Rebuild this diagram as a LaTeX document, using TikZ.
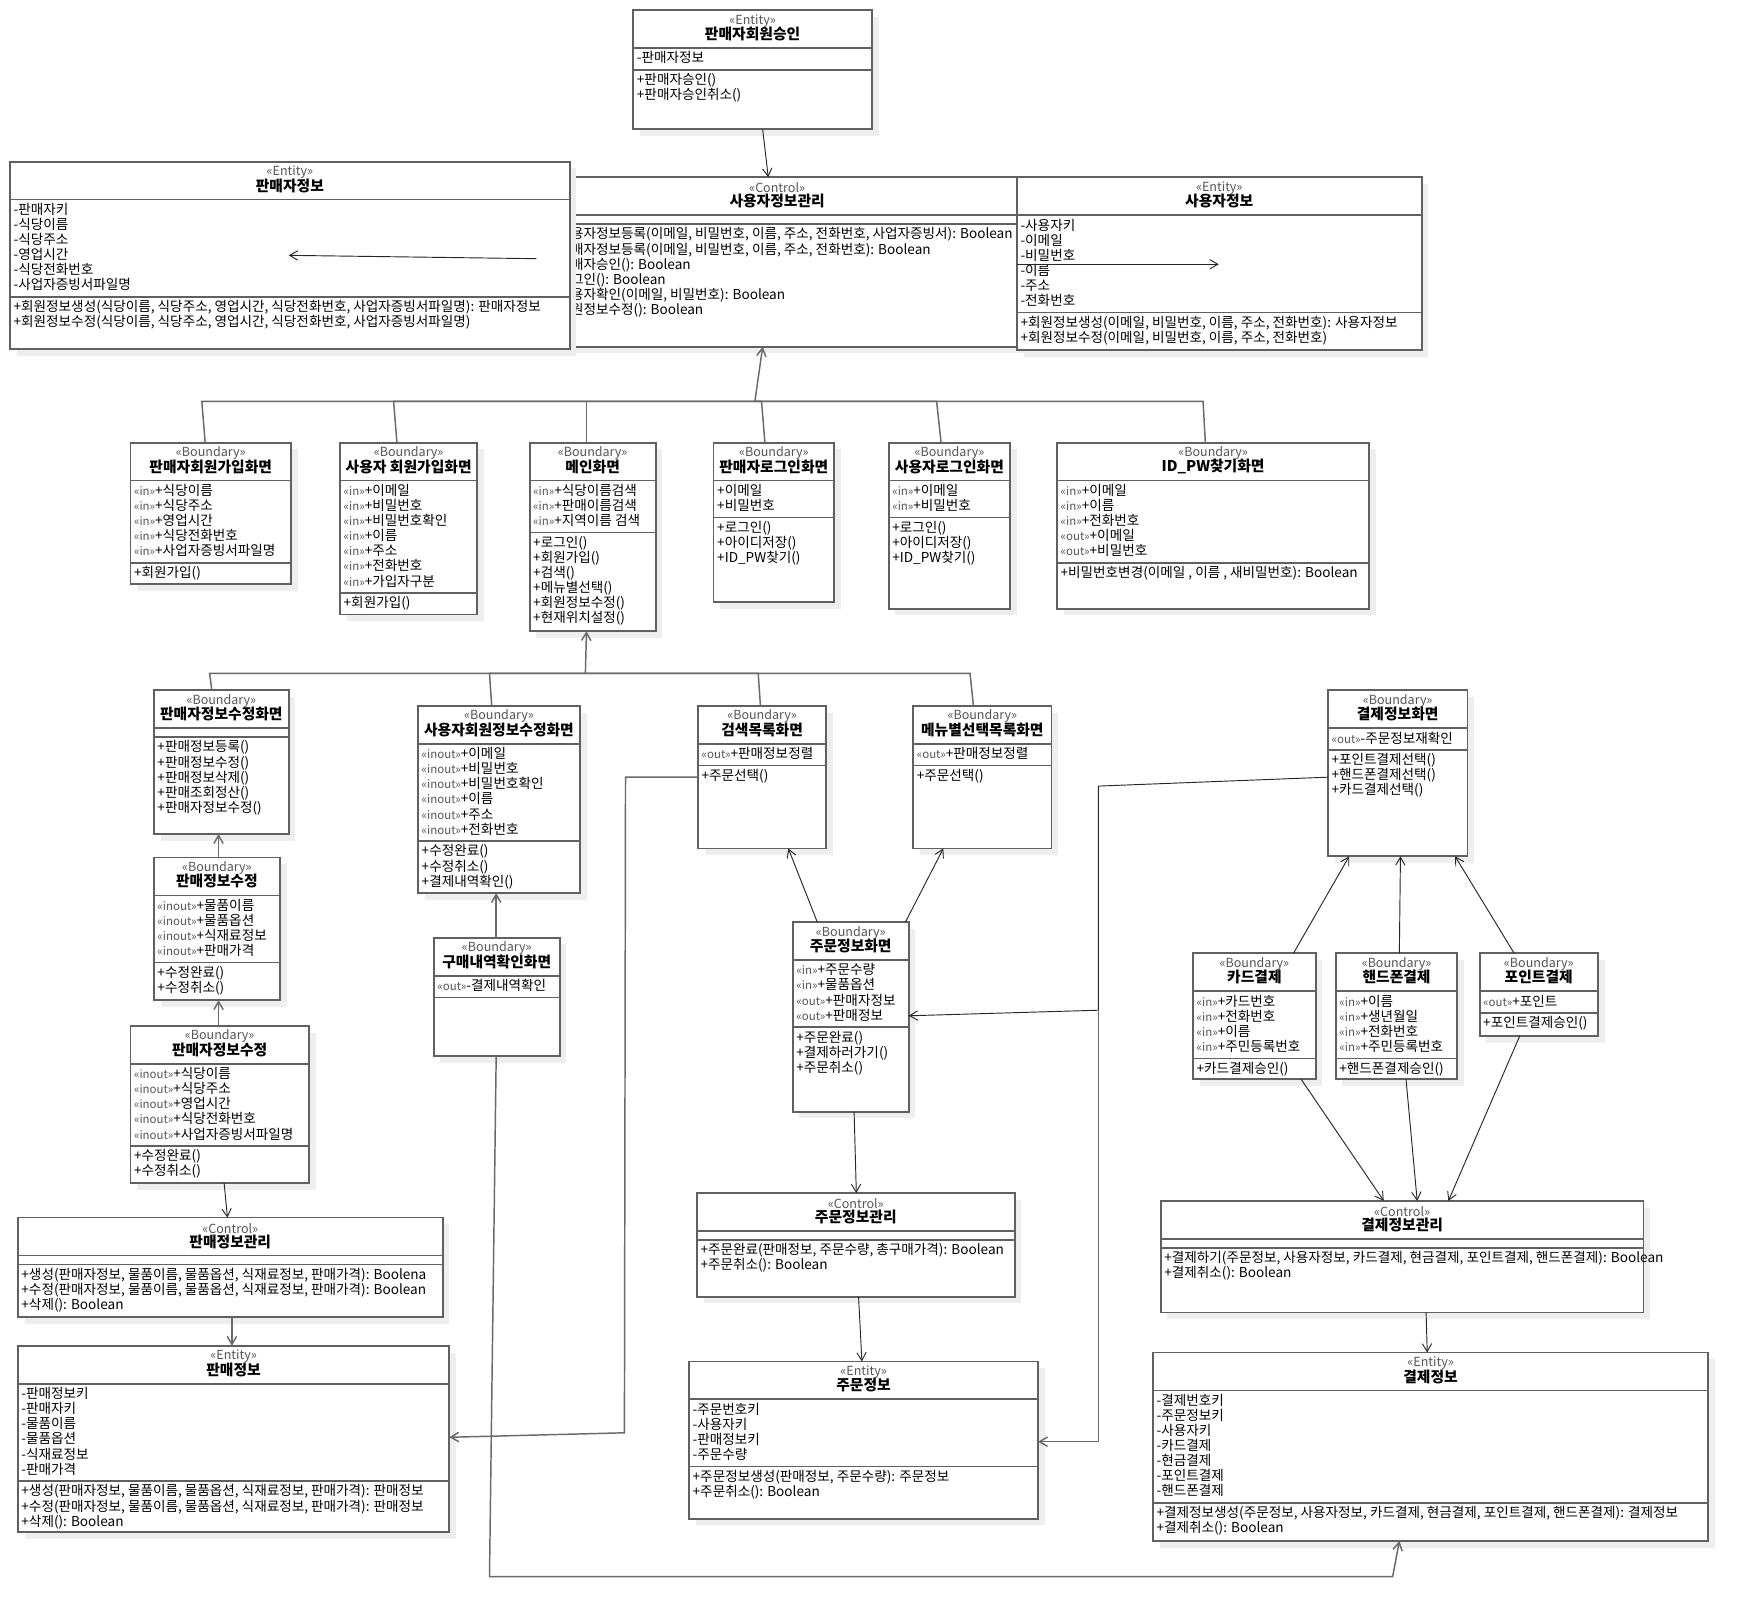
\documentclass[tikz,border=0pt]{standalone}
\usepackage{fontspec}
\setmainfont{Noto Sans CJK KR}
\usetikzlibrary{arrows.meta}

\definecolor{boxgray}{RGB}{96,96,96}
\definecolor{shadegray}{RGB}{238,238,238}
\definecolor{stgray}{RGB}{85,85,85}
\definecolor{linkgray}{RGB}{105,105,105}

\newcommand{\umlunit}{0.8363pt}
\newcommand{\stio}[1]{{\color{stgray}\fontsize{8.6}{11.33}\selectfont «#1»}}

\tikzset{
  cls box/.style={rectangle, draw=boxgray, line width=1.3pt, fill=white, anchor=north west, inner sep=0pt, outer sep=0pt},
  cls line/.style={draw=boxgray, line width=1.3pt},
  shade box/.style={fill=shadegray},
  stereo/.style={text=stgray, font=\fontsize{9.4}{10}\selectfont, inner sep=0pt},
  cls title/.style={font=\fontsize{11.1}{12}\selectfont\bfseries, inner sep=0pt},
  members/.style={anchor=north west, inner sep=0pt, align=left, font=\fontsize{10.2}{11.33}\selectfont},
  assoc/.style={draw=black!85, line width=0.7pt},
  route/.style={draw=linkgray, line width=1.1pt},
}

% name, x, y, width, height, stereotype, title, number of attributes
\newcommand{\umlclass}[8]{%
  \pgfmathsetmacro\sepb{ifthenelse(#8==0,42,40+13.55*#8)}
  \fill[shade box] (#2+6,#3+6) rectangle ++(#4,#5);
  \node[cls box, minimum width={#4*\umlunit}, minimum height={#5*\umlunit}] (#1) at (#2,#3) {};
  \draw[cls line] (#2,#3+34) -- ++(#4,0);
  \draw[cls line] (#2,#3+\sepb) -- ++(#4,0);
  \node[stereo] (#1-s) at (#2+#4/2,#3+9.5) {«#6»};
  \node[cls title] (#1-t) at (#2+#4/2,#3+21.5) {#7};
  \coordinate (#1-a) at (#2+3,#3+37);
  \coordinate (#1-o) at (#2+3,#3+\sepb+3);
}

\begin{document}
\begin{tikzpicture}[x=\umlunit,y=\umlunit,yscale=-1,>={Straight Barb[length=6pt,width=7pt]}]
\useasboundingbox (0,0) rectangle (1569.5,1452);

% Control: 사용자정보관리 (partly under the two entities)
\umlclass{C}{477}{159}{440}{152}{Control}{사용자정보관리}{0}
\node[members] (C-op) at (494,204) {+사용자정보등록(이메일, 비밀번호, 이름, 주소, 전화번호, 사업자증빙서): Boolean\\+판매자정보등록(이메일, 비밀번호, 이름, 주소, 전화번호): Boolean\\+판매자승인(): Boolean\\+로그인(): Boolean\\+사용자확인(이메일, 비밀번호): Boolean\\+회원정보수정(): Boolean};

% Entity: 판매자정보
\umlclass{B}{9}{145}{502}{168}{Entity}{판매자정보}{6}
\node[members] (B-at) at (B-a) {-판매자키\\-식당이름\\-식당주소\\-영업시간\\-식당전화번호\\-사업자증빙서파일명};
\node[members] (B-op) at (B-o) {+회원정보생성(식당이름, 식당주소, 영업시간, 식당전화번호, 사업자증빙서파일명): 판매자정보\\+회원정보수정(식당이름, 식당주소, 영업시간, 식당전화번호, 사업자증빙서파일명)};

% Entity: 사용자정보
\umlclass{D}{912}{159}{363}{155}{Entity}{사용자정보}{6}
\node[members] (D-at) at (D-a) {-사용자키\\-이메일\\-비밀번호\\-이름\\-주소\\-전화번호};
\node[members] (D-op) at (D-o) {+회원정보생성(이메일, 비밀번호, 이름, 주소, 전화번호): 사용자정보\\+회원정보수정(이메일, 비밀번호, 이름, 주소, 전화번호)};

% Entity: 판매자회원승인
\umlclass{A}{568}{9}{214}{107}{Entity}{판매자회원승인}{1}
\node[members] (A-at) at (A-a) {-판매자정보};
\node[members] (A-op) at (A-o) {+판매자승인()\\+판매자승인취소()};

% Boundary row
\umlclass{E1}{117}{397}{144}{127}{Boundary}{판매자회원가입화면}{5}
\node[members] (E1-at) at (E1-a) {\stio{in}+식당이름\\\stio{in}+식당주소\\\stio{in}+영업시간\\\stio{in}+식당전화번호\\\stio{in}+사업자증빙서파일명};
\node[members] (E1-op) at (E1-o) {+회원가입()};

\umlclass{E2}{305}{397}{123}{154}{Boundary}{사용자 회원가입화면}{7}
\node[members] (E2-at) at (E2-a) {\stio{in}+이메일\\\stio{in}+비밀번호\\\stio{in}+비밀번호확인\\\stio{in}+이름\\\stio{in}+주소\\\stio{in}+전화번호\\\stio{in}+가입자구분};
\node[members] (E2-op) at (E2-o) {+회원가입()};

\umlclass{E3}{475}{397}{113}{169}{Boundary}{메인화면}{3}
\node[members] (E3-at) at (E3-a) {\stio{in}+식당이름검색\\\stio{in}+판매이름검색\\\stio{in}+지역이름 검색};
\node[members] (E3-op) at (E3-o) {+로그인()\\+회원가입()\\+검색()\\+메뉴별선택()\\+회원정보수정()\\+현재위치설정()};

\umlclass{E4}{640}{397}{108}{143}{Boundary}{판매자로그인화면}{2}
\node[members] (E4-at) at (E4-a) {+이메일\\+비밀번호};
\node[members] (E4-op) at (E4-o) {+로그인()\\+아이디저장()\\+ID\_PW찾기()};

\umlclass{E5}{797}{397}{109}{149}{Boundary}{사용자로그인화면}{2}
\node[members] (E5-at) at (E5-a) {\stio{in}+이메일\\\stio{in}+비밀번호};
\node[members] (E5-op) at (E5-o) {+로그인()\\+아이디저장()\\+ID\_PW찾기()};

\umlclass{E6}{948}{397}{280}{149}{Boundary}{ID\_PW찾기화면}{5}
\node[members] (E6-at) at (E6-a) {\stio{in}+이메일\\\stio{in}+이름\\\stio{in}+전화번호\\\stio{out}+이메일\\\stio{out}+비밀번호};
\node[members] (E6-op) at (E6-o) {+비밀번호변경(이메일 , 이름 , 새비밀번호): Boolean};

% second row
\umlclass{F1}{138}{619}{121}{129}{Boundary}{판매자정보수정화면}{0}
\node[members] (F1-op) at (F1-o) {+판매정보등록()\\+판매정보수정()\\+판매정보삭제()\\+판매조회정산()\\+판매자정보수정()};

\umlclass{F2}{375}{633}{145}{168}{Boundary}{사용자회원정보수정화면}{6}
\node[members] (F2-at) at (F2-a) {\stio{inout}+이메일\\\stio{inout}+비밀번호\\\stio{inout}+비밀번호확인\\\stio{inout}+이름\\\stio{inout}+주소\\\stio{inout}+전화번호};
\node[members] (F2-op) at (F2-o) {+수정완료()\\+수정취소()\\+결제내역확인()};

\umlclass{F3}{626}{633}{115}{128}{Boundary}{검색목록화면}{1}
\node[members] (F3-at) at (F3-a) {\stio{out}+판매정보정렬};
\node[members] (F3-op) at (F3-o) {+주문선택()};

\umlclass{F4}{819}{633}{124}{128}{Boundary}{메뉴별선택목록화면}{1}
\node[members] (F4-at) at (F4-a) {\stio{out}+판매정보정렬};
\node[members] (F4-op) at (F4-o) {+주문선택()};

\umlclass{G}{1191}{619}{125}{149}{Boundary}{결제정보화면}{1}
\node[members] (G-at) at (G-a) {\stio{out}-주문정보재확인};
\node[members] (G-op) at (G-o) {+포인트결제선택()\\+핸드폰결제선택()\\+카드결제선택()};

\umlclass{H}{138}{769}{113}{128}{Boundary}{판매정보수정}{4}
\node[members] (H-at) at (H-a) {\stio{inout}+물품이름\\\stio{inout}+물품옵션\\\stio{inout}+식재료정보\\\stio{inout}+판매가격};
\node[members] (H-op) at (H-o) {+수정완료()\\+수정취소()};

\umlclass{I}{389}{841}{113}{106}{Boundary}{구매내역확인화면}{1}
\node[members] (I-at) at (I-a) {\stio{out}-결제내역확인};

\umlclass{J}{711}{827}{104}{170}{Boundary}{주문정보화면}{4}
\node[members] (J-at) at (J-a) {\stio{in}+주문수량\\\stio{in}+물품옵션\\\stio{out}+판매자정보\\\stio{out}+판매정보};
\node[members] (J-op) at (J-o) {+주문완료()\\+결제하러가기()\\+주문취소()};

\umlclass{K}{1070}{855}{110}{113}{Boundary}{카드결제}{4}
\node[members] (K-at) at (K-a) {\stio{in}+카드번호\\\stio{in}+전화번호\\\stio{in}+이름\\\stio{in}+주민등록번호};
\node[members] (K-op) at (K-o) {+카드결제승인()};

\umlclass{L}{1198}{855}{109}{113}{Boundary}{핸드폰결제}{4}
\node[members] (L-at) at (L-a) {\stio{in}+이름\\\stio{in}+생년월일\\\stio{in}+전화번호\\\stio{in}+주민등록번호};
\node[members] (L-op) at (L-o) {+핸드폰결제승인()};

\umlclass{M}{1327}{855}{106}{74}{Boundary}{포인트결제}{1}
\node[members] (M-at) at (M-a) {\stio{out}+포인트};
\node[members] (M-op) at (M-o) {+포인트결제승인()};

\umlclass{N}{117}{920}{160}{141}{Boundary}{판매자정보수정}{5}
\node[members] (N-at) at (N-a) {\stio{inout}+식당이름\\\stio{inout}+식당주소\\\stio{inout}+영업시간\\\stio{inout}+식당전화번호\\\stio{inout}+사업자증빙서파일명};
\node[members] (N-op) at (N-o) {+수정완료()\\+수정취소()};

% controls and entities at the bottom
\umlclass{O}{16}{1092}{381}{89}{Control}{판매정보관리}{0}
\node[members] (O-op) at (O-o) {+생성(판매자정보, 물품이름, 물품옵션, 식재료정보, 판매가격): Boolena\\+수정(판매자정보, 물품이름, 물품옵션, 식재료정보, 판매가격): Boolean\\+삭제(): Boolean};

\umlclass{P}{16}{1207}{387}{167}{Entity}{판매정보}{6}
\node[members] (P-at) at (P-a) {-판매정보키\\-판매자키\\-물품이름\\-물품옵션\\-식재료정보\\-판매가격};
\node[members] (P-op) at (P-o) {+생성(판매자정보, 물품이름, 물품옵션, 식재료정보, 판매가격): 판매정보\\+수정(판매자정보, 물품이름, 물품옵션, 식재료정보, 판매가격): 판매정보\\+삭제(): Boolean};

\umlclass{Q}{625}{1070}{285}{93}{Control}{주문정보관리}{0}
\node[members] (Q-op) at (Q-o) {+주문완료(판매정보, 주문수량, 총구매가격): Boolean\\+주문취소(): Boolean};

\umlclass{R}{618}{1221}{313}{141}{Entity}{주문정보}{4}
\node[members] (R-at) at (R-a) {-주문번호키\\-사용자키\\-판매정보키\\-주문수량};
\node[members] (R-op) at (R-o) {+주문정보생성(판매정보, 주문수량): 주문정보\\+주문취소(): Boolean};

\umlclass{S}{1041}{1077}{433}{100}{Control}{결제정보관리}{0}
\node[members] (S-op) at (S-o) {+결제하기(주문정보, 사용자정보, 카드결제, 현금결제, 포인트결제, 핸드폰결제): Boolean\\+결제취소(): Boolean};

\umlclass{T}{1034}{1213}{498}{169}{Entity}{결제정보}{7}
\node[members] (T-at) at (T-a) {-결제번호키\\-주문정보키\\-사용자키\\-카드결제\\-현금결제\\-포인트결제\\-핸드폰결제};
\node[members] (T-op) at (T-o) {+결제정보생성(주문정보, 사용자정보, 카드결제, 현금결제, 포인트결제, 핸드폰결제): 결제정보\\+결제취소(): Boolean};

% connectors at the top
\draw[assoc,->] (A.south -| 684,0) -- (C.north -| 689,0);
\coordinate (cb1) at (481,232);
\coordinate (cb2) at (259,229);
\draw[assoc,->] (cb1) -- (cb2);
\coordinate (cd2) at (1093,237);
\draw[assoc,->] (D.west |- 0,237) -- (cd2);

% tree to 사용자정보관리
\coordinate (t1) at (677,360);
\draw[route] (E1.north -| 184,0) -- (181,360) -- (t1);
\draw[route] (E2.north -| 356,0) -- (353,360) -- (t1);
\draw[route] (E3.north -| 526,0) -- (526,360) -- (t1);
\draw[route] (E4.north -| 686,0) -- (683,360) -- (t1);
\draw[route] (E5.north -| 844,0) -- (840,360) -- (t1);
\draw[route] (E6.north -| 1081,0) -- (1079,360) -- (t1);
\draw[route,->] (t1) -- (C.south -| 684,0);

% tree to 메인화면
\coordinate (t2) at (525,604);
\draw[route] (F1.north -| 190,0) -- (188,604) -- (t2);
\draw[route] (F2.north -| 441,0) -- (439,604) -- (t2);
\draw[route] (F3.north -| 682,0) -- (680,604) -- (t2);
\draw[route] (F4.north -| 873,0) -- (870,604) -- (t2);
\draw[route,->] (t2) -- (E3.south -| 526,0);

% seller side
\draw[route,->] (H.north -| 196,0) -- (F1.south -| 196,0);
\draw[route,->] (N.north -| 196,0) -- (H.south -| 196,0);
\draw[assoc,->] (N.south -| 201,0) -- (O.north -| 204,0);
\draw[route,->] (O.south -| 208,0) -- (P.north -| 208,0);
\draw[route,->] (I.north -| 445,0) -- (F2.south -| 445,0);
\draw[route,->] (F3.west |- 0,697) -- (561,697) -- (560,1285) -- (P.east |- 0,1289);

% order side
\draw[assoc,->] (J.north -| 733,0) -- (F3.south -| 707,0);
\draw[assoc,->] (J.north -| 812,0) -- (F4.south -| 846,0);
\draw[assoc,->] (J.south -| 766,0) -- (Q.north -| 768,0);
\draw[assoc,->] (Q.south -| 770,0) -- (R.north -| 773,0);
\coordinate (g1) at (985,705);
\coordinate (g2) at (985,906);
\draw[assoc] (G.west |- 0,697) -- (g1) -- (g2);
\draw[assoc,->] (g2) -- (J.east |- 0,911);
\draw[route,->] (g2) -- (985,1293) -- (R.east |- 0,1293);

% payment side
\draw[assoc,->] (K.north -| 1160,0) -- (G.south -| 1210,0);
\draw[assoc,->] (L.north -| 1255,0) -- (G.south -| 1256,0);
\draw[assoc,->] (M.north -| 1358,0) -- (G.south -| 1305,0);
\draw[assoc,->] (K.south -| 1167,0) -- (S.north -| 1241,0);
\draw[assoc,->] (L.south -| 1261,0) -- (S.north -| 1271,0);
\draw[assoc,->] (M.south -| 1363,0) -- (S.north -| 1299,0);
\draw[assoc,->] (S.south -| 1279,0) -- (T.north -| 1280,0);
\draw[route,->] (I.south -| 445,0) -- (439,1414) -- (1249,1414) -- (T.south -| 1255,0);

\end{tikzpicture}
\end{document}
